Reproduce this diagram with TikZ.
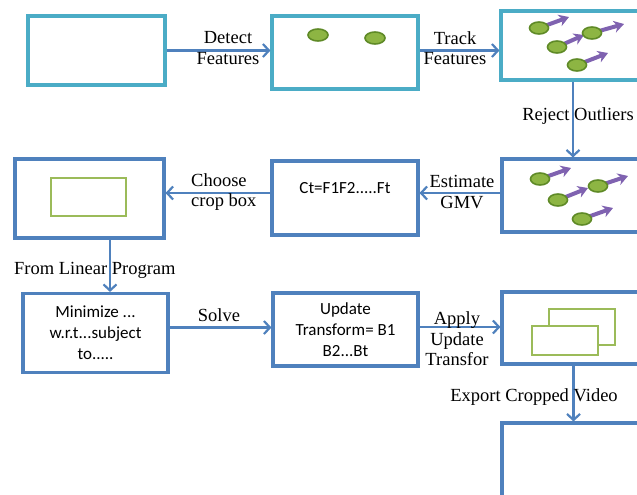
\documentclass[tikz,border=0pt]{standalone}
\usepackage{fontspec}
\setmainfont{Liberation Serif}
\newfontfamily\boxfont{Carlito}
\usetikzlibrary{arrows.meta}
\definecolor{flowblue}{HTML}{4F81BD}
\definecolor{flowteal}{HTML}{4BACC6}
\definecolor{featgreen}{HTML}{8DB543}
\definecolor{featedge}{HTML}{5F8A27}
\definecolor{cropgreen}{HTML}{9BBB59}
\definecolor{motion}{HTML}{7F62B0}

\begin{document}
\begin{tikzpicture}[x=1pt,y=-1pt,
  frame/.style={draw=flowblue, line width=3.1pt, fill=white, inner sep=0pt,
    font=\boxfont\fontsize{17}{21}\selectfont, align=center},
  tealframe/.style={frame, draw=flowteal},
  boxtext/.style={inner sep=0pt, font=\boxfont\fontsize{17}{21}\selectfont, align=center},
  flow/.style={draw=flowblue, line width=2.2pt, -{Straight Barb[length=6pt,width=13pt]}},
  lab/.style={font=\fontsize{18.5}{20.5}\selectfont, align=center, inner sep=0pt},
  feature/.style={fill=featgreen, draw=featedge, line width=1.6pt},
  motionarrow/.style={draw=motion, line width=4pt, -{Stealth[length=10pt,width=12pt]}},
  cropbox/.style={draw=cropgreen, line width=2.8pt, fill=white}]

\useasboundingbox (0,0) rectangle (637,495);
\clip (0,0) rectangle (637,495);

% top row: frames and feature tracking
\node[tealframe, minimum width=137pt, minimum height=69pt] (A) at (96.5,50.5) {};
\node[tealframe, minimum width=146pt, minimum height=73pt] (B) at (345,52.5) {};
\node[tealframe, minimum width=144pt, minimum height=69pt] (C) at (573,45.5) {};

% middle row
\node[frame, minimum width=142pt, minimum height=73pt] (D) at (573,195.5) {};
\node[frame, minimum width=146pt, minimum height=74pt] (E) at (345,198) {};
\node[boxtext] (Etext) at (345,188) {Ct=F1F2.....Ft};
\node[frame, minimum width=149pt, minimum height=79pt] (F) at (89.5,198.5) {};

% bottom rows
\node[frame, minimum width=145pt, minimum height=79pt] (G) at (95.5,333) {Minimize ...\\w.r.t...subject\\to.....};
\node[frame, minimum width=145pt, minimum height=73pt] (H) at (345.5,329.5) {Update\\Transform= B1\\B2...Bt};
\node[frame, minimum width=143pt, minimum height=72pt] (I) at (573.5,328) {};
\node[frame, minimum width=143pt, minimum height=82pt] (J) at (573.5,464) {};

% features in the second frame
\draw[feature] (318,35) ellipse [x radius=10, y radius=6];
\draw[feature] (375,38) ellipse [x radius=10, y radius=6];

% tracked features with motion vectors
\foreach \p/\q in {{(539,28)}/{(569,17)}, {(557,47)}/{(584,35)}, {(592,33)}/{(624,24)}, {(577,65)}/{(608,53)},
                   {(540,179)}/{(571,168)}, {(558,200)}/{(588,188)}, {(598,186)}/{(628,176)}, {(582,219)}/{(613,208)}} {
  \draw[motionarrow] \p -- \q;
  \draw[feature] \p ellipse [x radius=9.5, y radius=6];
}

% crop boxes
\draw[cropbox] (51,178) rectangle (126,216);
\draw[cropbox] (549,309) rectangle (615,345);
\draw[cropbox] (532,326) rectangle (598,355);

% connectors
\draw[flow] (A.east) -- (A.east -| B.west);
\draw[flow] (A.east -| B.east) -- (A.east -| C.west);
\draw[flow] (C.south) -- (D.north);
\coordinate (gmv) at ([yshift=2.5pt]D.west);
\draw[flow] (gmv) -- (gmv -| E.east);
\coordinate (choose) at ([yshift=5pt]E.west);
\draw[flow] (choose) -- (choose -| F.east);
\coordinate (lp) at ([xshift=20.5pt]F.south);
\draw[flow] (lp) -- (lp |- G.north);
\coordinate (solve) at ([yshift=5.5pt]G.east);
\draw[flow] (solve) -- (solve -| H.west);
\coordinate (apply) at ([yshift=2.5pt]H.east);
\draw[flow] (apply) -- (apply -| I.west);
\draw[flow] (I.south) -- (J.north);

% connector labels
\node[lab] (ldetect) at (228,48) {Detect\\Features};
\node[lab] (ltrack) at (455,48) {Track\\Features};
\node[lab] (lreject) at (578,116) {Reject Outliers};
\node[lab] (lgmv) at (462,192) {Estimate\\GMV};
\node[lab, align=left, anchor=west] (lcrop) at (191,192) {Choose\\crop box};
\node[lab, anchor=west] (llp) at (14,270) {From Linear Program};
\node[lab] (lsolve) at (219,315) {Solve};
\node[lab] (lapply) at (457,339) {Apply\\Update\\Transfor};
\node[lab] (lexport) at (534,397) {Export Cropped Video};
\end{tikzpicture}
\end{document}
